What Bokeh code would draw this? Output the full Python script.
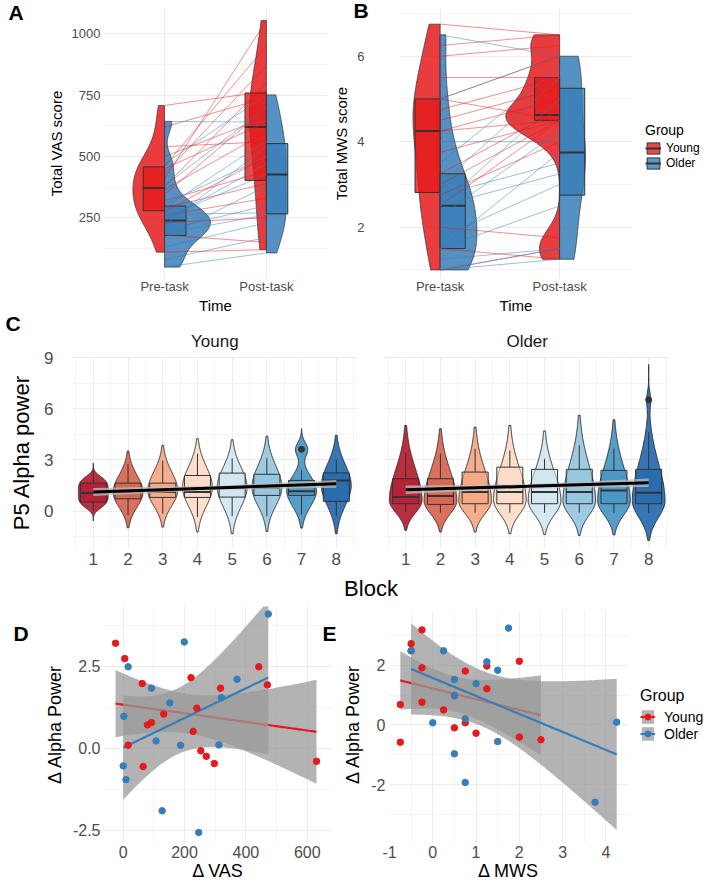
import numpy as np
from bokeh.plotting import figure
from bokeh.models import (Range1d, FixedTicker, Label, Legend, LegendItem, BoxAnnotation,
                          LinearAxis)
from bokeh.layouts import column, row
from bokeh.embed import file_html
from bokeh.resources import INLINE

FONT = "Liberation Sans"
RED = "#E41A1C"
BLUE = "#377EB8"
GRID_MAJOR = "#EBEBEB"
GRID_MINOR = "#F3F3F3"
TICK_TEXT = "#4D4D4D"
DARK = "#333333"

# ------------------------------------------------------------------ data
time_ticks = [1, 2]
time_labels = ["Pre-task", "Post-task"]
group_labels = ["Young", "Older"]
panel_letters = ["A", "B", "C", "D", "E"]

# Panel A: total VAS score (paired: index i pre -> index i post)
vas_young_pre = [110, 180, 230, 260, 275, 290, 320, 345, 365, 377, 409, 430, 450, 460, 500, 540, 620, 708]
vas_young_post = [120, 150, 250, 330, 500, 390, 440, 700, 600, 800, 1054, 870, 640, 950, 660, 560, 740, 765]
vas_older_pre = [49, 80, 130, 170, 186, 200, 220, 239, 250, 265, 290, 306, 380, 470, 643]
vas_older_post = [107, 170, 230, 380, 262, 300, 540, 470, 427, 270, 565, 500, 700, 751, 640]

# Panel B: total MWS score (paired)
mws_young_pre = [6.75, 6.25, 6.0, 5.5, 5.0, 5.0, 4.75, 4.5, 4.25, 4.25, 3.75, 3.25, 3.0, 2.75, 2.5, 2.0, 1.5, 1.0]
mws_young_post = [6.5, 6.5, 6.25, 5.5, 6.0, 4.5, 5.5, 5.25, 4.5, 5.0, 4.5, 4.75, 4.5, 4.0, 4.5, 1.75, 1.25, 1.5]
mws_older_pre = [6.5, 5.0, 4.0, 3.5, 3.0, 2.75, 2.5, 2.5, 2.25, 1.75, 1.5, 1.5, 1.25, 1.0, 1.0]
mws_older_post = [6.0, 6.0, 4.0, 5.75, 5.5, 3.5, 5.0, 3.25, 4.25, 3.0, 3.75, 2.5, 1.5, 1.5, 1.25]

# Panel C: P5 alpha power per block (box + violin summaries)
blocks = [1, 2, 3, 4, 5, 6, 7, 8]
block_labels = ["1", "2", "3", "4", "5", "6", "7", "8"]
block_colors = ["#B2182B", "#D6604D", "#F4A582", "#FDDBC7", "#D1E5F0", "#92C5DE", "#4393C3", "#2166AC"]

young_q1 = [0.53, 0.72, 0.80, 0.80, 0.82, 0.92, 0.92, 0.57]
young_med = [1.06, 1.12, 1.12, 1.12, 1.35, 1.35, 1.16, 1.80]
young_q3 = [1.64, 1.64, 1.64, 2.09, 2.23, 2.16, 1.80, 2.24]
young_wlo = [0.00, -0.25, -0.15, -0.35, -0.30, -0.30, -0.20, -0.30]
young_whi = [2.40, 2.78, 2.97, 3.37, 3.10, 3.10, 2.40, 3.00]
young_vlo = [-0.58, -0.98, -0.94, -1.23, -1.33, -1.20, -1.00, -1.33]
young_vhi = [2.82, 3.52, 3.86, 4.25, 4.19, 4.40, 4.84, 4.45]
young_peak = [1.10, 1.10, 1.20, 1.40, 1.40, 1.40, 1.20, 1.50]
young_sd_lo = [0.85, 0.87, 0.89, 1.10, 1.14, 1.08, 0.92, 1.18]
young_sd_hi = [0.85, 1.00, 1.10, 1.19, 1.16, 1.25, 0.85, 1.23]
young_shape = [4, 2, 2, 2, 2, 2, 2, 2]
young_bump_y = [0, 0, 0, 0, 0, 0, 3.63, 0]
young_bump_w = [0, 0, 0, 0, 0, 0, 0.17, 0]
young_out_block = [7]
young_out_val = [3.63]

older_q1 = [0.43, 0.39, 0.43, 0.43, 0.43, 0.43, 0.43, 0.43]
older_med = [0.82, 0.88, 1.12, 1.12, 1.12, 1.12, 1.21, 1.08]
older_q3 = [1.90, 1.90, 2.29, 2.58, 2.45, 2.45, 2.39, 2.45]
older_wlo = [-0.06, -0.10, -0.10, -0.10, -0.10, -0.10, -0.10, -0.10]
older_whi = [3.46, 3.37, 3.66, 3.56, 3.07, 3.86, 3.66, 4.64]
older_vlo = [-1.13, -1.23, -1.23, -1.33, -1.37, -1.43, -1.40, -1.72]
older_vhi = [5.03, 4.83, 4.93, 5.03, 4.70, 5.62, 5.36, 8.61]
older_peak = [0.63, 0.60, 0.60, 0.65, 0.60, 0.60, 0.60, 0.60]
older_sd_lo = [0.73, 0.76, 0.76, 0.82, 0.82, 0.84, 0.83, 0.97]
older_sd_hi = [1.83, 1.76, 1.80, 1.83, 1.71, 2.09, 1.98, 2.20]
older_shape = [2, 2, 2, 2, 2, 2, 2, 2]
older_bump_y = [0, 0, 0, 0, 0, 0, 0, 6.54]
older_bump_w = [0, 0, 0, 0, 0, 0, 0, 0.05]
older_out_block = [8]
older_out_val = [6.54]

fit_block = [1, 4.5, 8]
young_fit = [1.12, 1.36, 1.60]
young_ci = [0.23, 0.13, 0.23]
older_fit = [1.25, 1.45, 1.66]
older_ci = [0.25, 0.12, 0.25]

# Panel D: change in VAS vs change in alpha power
d_young_dvas = [-25, 5, 62, 16, 65, 79, 92, 132, 221, 240, 228, 253, 271, 297, 317, 442, 470, 630]
d_young_dalpha = [3.21, 2.74, 1.98, 0.10, -0.55, 0.72, 0.79, 1.05, 2.16, 1.23, 0.52, -0.07, -0.24, -0.46, 1.84, 2.49, 1.94, -0.39]
d_older_dvas = [2, 16, 0, 9, 92, 152, 107, 127, 199, 187, 246, 312, 320, 371, 473]
d_older_dalpha = [0.98, 2.49, -0.53, -0.95, 1.84, 1.39, 0.23, -1.90, 3.25, 0.10, -2.56, 0.11, 1.55, 2.11, 4.10]

# Panel E: change in MWS vs change in alpha power (last older point lies in the hidden top strip)
e_young_dmws = [-0.75, -0.75, -0.5, -0.25, -0.25, -0.25, 0.25, 0.5, 0.75, 0.75, 1.0, 1.25, 1.25, 2.0, 2.0, 2.5, 0.5, -0.5]
e_young_dalpha = [0.68, -0.58, 2.72, 3.18, 1.91, 0.76, 0.50, -0.10, 1.80, 0.07, -0.28, 1.97, 1.21, 2.13, -0.41, -0.50, 0.98, 2.48]
e_older_dmws = [-0.5, 0.0, 0.25, 0.5, 0.5, 0.5, 0.75, 0.75, 1.0, 1.25, 1.5, 1.5, 1.75, 3.75, 4.25, 0.0]
e_older_dalpha = [2.48, 0.07, 2.48, 1.52, 0.98, -0.97, 0.20, -1.93, 1.38, 2.11, 1.83, -0.56, 3.24, -2.59, 0.09, 4.10]
e_visible_top = 3.80

T975 = {10: 2.228, 11: 2.201, 12: 2.179, 13: 2.160, 14: 2.145, 15: 2.131, 16: 2.120, 17: 2.110, 18: 2.101, 19: 2.093, 20: 2.086}


# ------------------------------------------------------------------ helpers
def bw_nrd0(v):
    v = np.asarray(v, float)
    sd = v.std(ddof=1)
    q75, q25 = np.percentile(v, [75, 25])
    lo = min(sd, (q75 - q25) / 1.34)
    if lo <= 0:
        lo = sd
    return 0.9 * lo * len(v) ** -0.2


def kde(v, grid):
    v = np.asarray(v, float)
    bw = bw_nrd0(v)
    z = (grid[:, None] - v[None, :]) / bw
    return np.exp(-0.5 * z ** 2).sum(1) / (len(v) * bw * np.sqrt(2 * np.pi))


def style_axis(ax):
    ax.axis_line_color = None
    ax.major_tick_line_color = None
    ax.minor_tick_line_color = None
    ax.major_tick_out = 0
    ax.major_tick_in = 0
    ax.minor_tick_out = 0
    ax.minor_tick_in = 0
    ax.major_label_text_font = FONT
    ax.major_label_text_color = TICK_TEXT
    ax.axis_label_text_font = FONT
    ax.axis_label_text_font_style = "normal"
    ax.axis_label_text_color = "black"


def make_fig(fw, fh, left, right, top, bottom, xr, yr):
    p = figure(frame_width=fw, frame_height=fh, min_border_left=left, min_border_right=right,
               min_border_top=top, min_border_bottom=bottom, title_location=None,
               x_range=Range1d(*xr), y_range=Range1d(*yr),
               output_backend="svg", toolbar_location=None)
    p.outline_line_color = None
    p.background_fill_color = "white"
    p.border_fill_color = "white"
    for ax in p.axis:
        style_axis(ax)
    return p


def set_axes(p, xt, yt, xminor, yminor, tick_size, title_size, xlabel, ylabel,
             x_std=3, y_std=3, xl_std=2, yl_std=4, xover=None, yover=None):
    p.xaxis.ticker = FixedTicker(ticks=xt, minor_ticks=xminor)
    p.yaxis.ticker = FixedTicker(ticks=yt, minor_ticks=yminor)
    if xover:
        p.xaxis.major_label_overrides = xover
    if yover:
        p.yaxis.major_label_overrides = yover
    p.xaxis.axis_label = xlabel
    p.yaxis.axis_label = ylabel
    for ax in p.axis:
        ax.major_label_text_font_size = tick_size
        ax.axis_label_text_font_size = title_size
    p.xaxis.major_label_standoff = x_std
    p.yaxis.major_label_standoff = y_std
    p.xaxis.axis_label_standoff = xl_std
    p.yaxis.axis_label_standoff = yl_std
    p.grid.grid_line_color = GRID_MAJOR
    p.grid.grid_line_width = 1
    p.grid.minor_grid_line_color = GRID_MINOR
    p.grid.minor_grid_line_width = 1


def style_legend(leg, title_size, label_size, gw, gh, spacing, standoff):
    leg.title_text_font = FONT
    leg.title_text_font_size = title_size
    leg.title_text_font_style = "normal"
    leg.title_text_color = "black"
    leg.title_standoff = 3
    leg.label_text_font = FONT
    leg.label_text_font_size = label_size
    leg.label_text_color = "black"
    leg.glyph_width = gw
    leg.glyph_height = gh
    leg.label_height = gh
    leg.spacing = spacing
    leg.padding = 4
    leg.margin = 0
    leg.label_standoff = standoff
    leg.border_line_color = None
    leg.background_fill_alpha = 0


def raincloud(p, ypre, ypost, opre, opost, max_half=0.45, box_w=0.21):
    sets = [(ypre, 1, -1, RED), (opre, 1, 1, BLUE), (ypost, 2, -1, RED), (opost, 2, 1, BLUE)]
    dens = []
    for vals, pos, side, col in sets:
        v = np.asarray(vals, float)
        g = np.linspace(v.min(), v.max(), 200)
        dens.append((g, kde(v, g)))
    dmax = max(d.max() for g, d in dens)
    for (vals, pos, side, col), (g, d) in zip(sets, dens):
        w = d / dmax * max_half
        xs = np.concatenate([[pos], pos + side * w, [pos]])
        ys = np.concatenate([[g[0]], g, [g[-1]]])
        p.patch(xs, ys, fill_color=col, fill_alpha=0.85, line_color=DARK, line_width=0.8, line_alpha=0.9)
    rend = {}
    for vals, pos, side, col in sets:
        q1, med, q3 = np.percentile(vals, [25, 50, 75])
        left = pos - box_w if side < 0 else pos
        rq = p.quad(left=[left], right=[left + box_w], bottom=[q1], top=[q3], fill_color=col,
                    fill_alpha=0.8, line_color=DARK, line_width=1)
        rs = p.segment(x0=[left], x1=[left + box_w], y0=[med], y1=[med], line_color=DARK, line_width=2)
        rend[col] = (rq, rs)
    for pre, post, col in [(ypre, ypost, RED), (opre, opost, BLUE)]:
        p.segment(x0=[1] * len(pre), y0=pre, x1=[2] * len(post), y1=post,
                  line_color=col, line_alpha=0.55, line_width=0.9)
    return rend


def smooth(x, y, n=80):
    x = np.asarray(x, float)
    y = np.asarray(y, float)
    b, a = np.polyfit(x, y, 1)
    xs = np.linspace(x.min(), x.max(), n)
    fit = a + b * xs
    res = y - (a + b * x)
    df = len(x) - 2
    s = np.sqrt((res ** 2).sum() / df)
    sxx = ((x - x.mean()) ** 2).sum()
    se = s * np.sqrt(1.0 / len(x) + (xs - x.mean()) ** 2 / sxx)
    t = T975[df]
    return xs, fit, fit - t * se, fit + t * se


# ------------------------------------------------------------------ Panel A
pA = make_fig(224, 270, 103, 3, 8, 38, (0.4, 2.6), (2.6, 1103.1))
set_axes(pA, time_ticks, [250, 500, 750, 1000], [], [125, 375, 625, 875], "13px", "15px",
         "Time", "Total VAS score", x_std=0, xl_std=0, xover={1: time_labels[0], 2: time_labels[1]})
raincloud(pA, vas_young_pre, vas_young_post, vas_older_pre, vas_older_post)

# ------------------------------------------------------------------ Panel B
pB = make_fig(233, 270, 67, 79, 8, 38, (0.66, 2.61), (0.80, 7.116))
set_axes(pB, time_ticks, [2, 4, 6], [], [1, 3, 5, 7], "13px", "15px",
         "Time", "Total MWS score", x_std=0, y_std=35, xl_std=0,
         xover={1: time_labels[0], 2: time_labels[1]})
rb = raincloud(pB, mws_young_pre, mws_young_post, mws_older_pre, mws_older_post)
legB = Legend(items=[LegendItem(label=group_labels[0], renderers=list(rb[RED])),
                     LegendItem(label=group_labels[1], renderers=list(rb[BLUE]))],
              title="Group", location=(13, 108))
style_legend(legB, "14px", "12px", 16, 14, 1, 5)
pB.add_layout(legB, "right")

# ------------------------------------------------------------------ Panel C
OFF = 9
pC = make_fig(597, 192, 72, 40, 40, 58, (0.4, 17.6), (-2.2, 9.08))
c_ticks = blocks + [b + OFF for b in blocks]
c_minor = [b - 0.5 for b in blocks] + [8.5] + [b + OFF - 0.5 for b in blocks] + [8.5 + OFF]
c_over = {b + OFF: lab for b, lab in zip(blocks, block_labels)}
c_over.update({b: lab for b, lab in zip(blocks, block_labels)})
set_axes(pC, c_ticks, [0, 3, 6, 9], c_minor, [-1.5, 1.5, 4.5, 7.5], "17px", "22px",
         "Block", "P5 Alpha power", x_std=4, y_std=19, xl_std=8, yl_std=7, xover=c_over)
pC.add_layout(BoxAnnotation(left=8.6, right=9.4, fill_color="white", fill_alpha=1.0,
                            line_color=None, level="underlay"))
strip = LinearAxis(ticker=FixedTicker(ticks=[4.5, 4.5 + OFF], minor_ticks=[]),
                   major_label_overrides={4.5: group_labels[0], 4.5 + OFF: group_labels[1]})
style_axis(strip)
strip.major_label_text_font_size = "17px"
strip.major_label_text_color = "#1A1A1A"
strip.major_label_standoff = 6
pC.add_layout(strip, "above")

groups_c = [
    (0, young_q1, young_med, young_q3, young_wlo, young_whi, young_vlo, young_vhi, young_peak,
     young_sd_lo, young_sd_hi, young_shape, young_bump_y, young_bump_w, 0.43,
     young_out_block, young_out_val, young_fit, young_ci),
    (OFF, older_q1, older_med, older_q3, older_wlo, older_whi, older_vlo, older_vhi, older_peak,
     older_sd_lo, older_sd_hi, older_shape, older_bump_y, older_bump_w, 0.47,
     older_out_block, older_out_val, older_fit, older_ci),
]
for (off, q1s, meds, q3s, wlos, whis, vlos, vhis, pks, slos, shis, pows, bys, bws, W,
     ob, ov, fit, ci) in groups_c:
    vx, vy = [], []
    for i, b in enumerate(blocks):
        y = np.linspace(vlos[i], vhis[i], 160)
        s = np.where(y < pks[i], slos[i], shis[i])
        w = W * np.exp(-0.5 * np.abs((y - pks[i]) / s) ** pows[i])
        if bws[i] > 0:
            w = w + bws[i] * np.exp(-0.5 * ((y - bys[i]) / 0.4) ** 2)
        x = b + off
        vx.append(np.concatenate([x - w, (x + w)[::-1]]))
        vy.append(np.concatenate([y, y[::-1]]))
    pC.patches(vx, vy, fill_color=block_colors, fill_alpha=0.9, line_color=DARK, line_width=1)
    xs = [b + off for b in blocks]
    pC.quad(left=[x - 0.375 for x in xs], right=[x + 0.375 for x in xs], bottom=q1s, top=q3s,
            fill_color=block_colors, fill_alpha=0.55, line_color=DARK, line_width=1)
    pC.segment(x0=xs, x1=xs, y0=q3s, y1=whis, line_color=DARK, line_width=1)
    pC.segment(x0=xs, x1=xs, y0=q1s, y1=wlos, line_color=DARK, line_width=1)
    pC.segment(x0=[x - 0.375 for x in xs], x1=[x + 0.375 for x in xs], y0=meds, y1=meds,
               line_color=DARK, line_width=2)
    pC.scatter([b + off for b in ob], ov, size=6, color=DARK)
    fx = [f + off for f in fit_block]
    pC.varea(x=fx, y1=[f - c for f, c in zip(fit, ci)], y2=[f + c for f, c in zip(fit, ci)],
             fill_color="#BDBDBD", fill_alpha=0.75)
    pC.line(fx, fit, line_color="black", line_width=3)

# ------------------------------------------------------------------ Panel D
RIB = "#999999"
pD = make_fig(227, 236, 104, 9, 0, 44, (-61, 679), (-2.866, 4.329))
set_axes(pD, [0, 200, 400, 600], [-2.5, 0, 2.5], [100, 300, 500], [-1.25, 1.25, 3.75],
         "16px", "18px", "\u0394 VAS", "\u0394 Alpha Power", x_std=3, y_std=4, xl_std=0, yl_std=5,
         yover={-2.5: "-2.5", 0: "0.0", 2.5: "2.5"})
for xv, yv, col in [(d_young_dvas, d_young_dalpha, RED), (d_older_dvas, d_older_dalpha, BLUE)]:
    xs, fit, lo, hi = smooth(xv, yv)
    pD.varea(x=xs, y1=lo, y2=hi, fill_color=RIB, fill_alpha=0.75)
    pD.line(xs, fit, line_color=col, line_width=2.2)
for xv, yv, col in [(d_young_dvas, d_young_dalpha, RED), (d_older_dvas, d_older_dalpha, BLUE)]:
    pD.scatter(xv, yv, size=6.5, color=col)

# ------------------------------------------------------------------ Panel E
pE = make_fig(238, 236, 46, 85, 0, 44, (-1.0, 4.5), (-3.94, 3.964))
set_axes(pE, [-1, 0, 1, 2, 3, 4], [-2, 0, 2], [-0.5, 0.5, 1.5, 2.5, 3.5, 4.5], [-3, -1, 1, 3],
         "16px", "18px", "\u0394 MWS", "\u0394 Alpha Power", x_std=3, y_std=4, xl_std=0, yl_std=5,
         xover={-1: "-1"}, yover={-2: "-2"})
rends = []
for xv, yv, col in [(e_young_dmws, e_young_dalpha, RED), (e_older_dmws, e_older_dalpha, BLUE)]:
    xs, fit, lo, hi = smooth(xv, yv)
    ra = pE.varea(x=xs, y1=lo, y2=hi, fill_color=RIB, fill_alpha=0.75)
    rl = pE.line(xs, fit, line_color=col, line_width=2.2)
    rends.append([ra, rl])
for k, (xv, yv, col) in enumerate([(e_young_dmws, e_young_dalpha, RED), (e_older_dmws, e_older_dalpha, BLUE)]):
    keep = [i for i, v in enumerate(yv) if v <= e_visible_top]
    rp = pE.scatter([xv[i] for i in keep], [yv[i] for i in keep], size=6.5, color=col)
    rends[k].append(rp)
# the top strip of panel E is blanked out in the source figure
pE.add_layout(BoxAnnotation(bottom=e_visible_top, fill_color="white", fill_alpha=1.0, line_color=None,
                            level="annotation"))
legE = Legend(items=[LegendItem(label=group_labels[0], renderers=rends[0]),
                     LegendItem(label=group_labels[1], renderers=rends[1])],
              title="Group", location=(13, 100))
style_legend(legE, "16px", "14px", 15, 17, 0, 9)
pE.add_layout(legE, "right")

# ------------------------------------------------------------------ panel letters (transparent overlay)
pO = figure(frame_width=709, frame_height=886, x_range=Range1d(0, 709), y_range=Range1d(886, 0),
            output_backend="svg", toolbar_location=None, title_location=None,
            x_axis_type=None, y_axis_type=None, min_border_left=0, min_border_right=0,
            min_border_top=0, min_border_bottom=0)
pO.outline_line_color = None
pO.background_fill_color = None
pO.border_fill_color = None
pO.grid.visible = False
letter_x = [8, 353, 5, 13, 322]
letter_y = [0, -2, 311, 621, 621]
for t, lx, ly in zip(panel_letters, letter_x, letter_y):
    pO.add_layout(Label(x=lx, y=ly, text=t, text_font=FONT, text_font_size="21px",
                        text_font_style="bold", text_baseline="top", text_align="left",
                        text_color="black"))
overlay = row(pO)
overlay.margin = (-886, 0, 0, 0)

layout = column(row(pA, pB), pC, row(pD, pE), overlay)
open("out.html", "w").write(file_html(layout, INLINE))
